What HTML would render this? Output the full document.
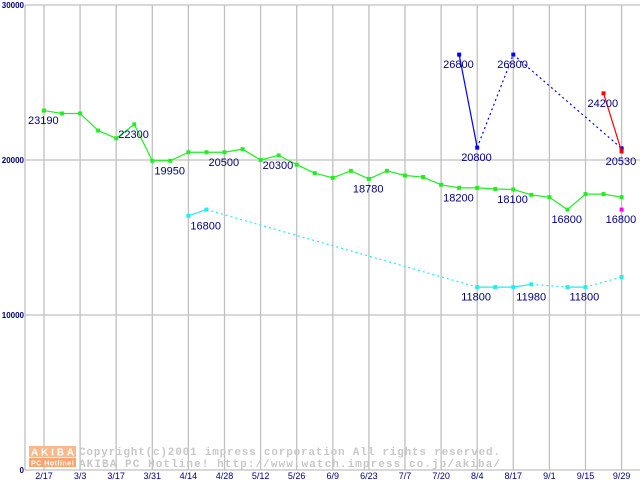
<!DOCTYPE html>
<html><head><meta charset="utf-8"><style>
html,body{margin:0;padding:0;background:#fff;}
svg{display:block;font-family:"Liberation Sans",sans-serif;}
</style></head><body>
<svg id="chart" width="640" height="480" viewBox="0 0 640 480" xmlns="http://www.w3.org/2000/svg">
<g id="wm">
<rect x="29" y="446" width="47" height="11" fill="#fbb88a"/>
<rect x="29" y="458" width="47" height="9" fill="#f9a570"/>
<text x="31" y="455.5" font-size="10" font-weight="bold" fill="#fff" textLength="43">AKIBA</text>
<text x="31" y="465.5" font-size="7" font-weight="bold" fill="#fff" textLength="43">PC Hotline!</text>
<text x="79" y="455" font-size="11" font-weight="bold" fill="#c8c8c8" font-family="Liberation Mono, monospace" textLength="421" lengthAdjust="spacing">Copyright(c)2001 impress corporation All rights reserved.</text>
<text x="79" y="467" font-size="11" font-weight="bold" fill="#c8c8c8" font-family="Liberation Mono, monospace" textLength="421" lengthAdjust="spacing">AKIBA PC Hotline!  http://www.watch.impress.co.jp/akiba/</text>
</g>
</svg>
<script>
const xLabels=["2/17","3/3","3/17","3/31","4/14","4/28","5/12","5/26","6/9","6/23","7/7","7/20","8/4","8/17","9/1","9/15","9/29"];
const yTicks=[0,10000,20000,30000];
const greenVals=[23190,23000,23000,21900,21400,22300,19950,19950,20500,20500,20500,20700,20000,20300,19700,19150,18850,19300,18780,19300,19000,18900,18400,18200,18200,18130,18100,17750,17600,16800,17800,17800,17600];
const cyanIdx=[8,9,24,25,26,27,29,30,32];
const cyanVals=[16400,16800,11800,11800,11800,11980,11800,11800,12450];
const blueIdx=[23,24,26,32];
const blueVals=[26800,20800,26800,20750];
const redIdx=[31,32];
const redVals=[24300,20550];
const magIdx=[32];
const magVals=[16800];
const lblIdx=[0,5,7,10,13,18,23,26,29,32,8,24,26,30,23,24,26,31,32];
const lblVals=[23190,22300,19950,20500,20300,18780,18200,18100,16800,16800,16800,11800,11980,11800,26800,20800,26800,24200,20530];
const lblSeries=["g","g","g","g","g","g","g","g","g","m","c","c","c","c","b","b","b","r","r"];

const svg=document.getElementById('chart');
const NS="http://www.w3.org/2000/svg";
const X=i=>44+18.05*i;
const Y=v=>470-v*465/30000;
function mk(t,a){const e=document.createElementNS(NS,t);for(const k in a)e.setAttribute(k,a[k]);return e;}
const wm=document.getElementById('wm');
const gGrid=mk('g',{});


svg.insertBefore(gGrid,wm);
xLabels.forEach((l,k)=>{
  const x=X(2*k);
  const ln=mk('line',{x1:x,x2:x,y1:5,y2:470,stroke:'#c0c0c0','stroke-width':1.3});
  
  
  gGrid.appendChild(ln);
  const t=mk('text',{x:x,y:479,'font-size':9,fill:'#000080','text-anchor':'middle'});
  
  
  t.textContent=l;svg.appendChild(t);
});
yTicks.forEach(v=>{
  const y=Y(v);
  const ln=mk('line',{x1:25,x2:640,y1:y,y2:y,stroke:'#c0c0c0','stroke-width':1.3});
  
  
  gGrid.appendChild(ln);
  const t=mk('text',{x:24,y:y+3,'font-size':8,'font-weight':'bold',fill:'#000080','text-anchor':'end'});
  
  
  t.textContent=v;svg.appendChild(t);
});
const ax=mk('line',{x1:25,x2:25,y1:5,y2:470,stroke:'#c0c0c0','stroke-width':1.3});


gGrid.appendChild(ax);

function series(idx,vals,color,name){
  const g=mk('g',{});
  
  
  svg.appendChild(g);
  for(let k=1;k<idx.length;k++){
    const dotted=idx[k]-idx[k-1]>1;
    const a={x1:X(idx[k-1]),y1:Y(vals[k-1]),x2:X(idx[k]),y2:Y(vals[k]),stroke:color,'stroke-width':1.2};
    if(dotted)a['stroke-dasharray']='2,3';
    const s=mk('line',a);
    
    
    g.appendChild(s);
  }
  idx.forEach((i,k)=>{
    const r=mk('rect',{x:X(i)-2,y:Y(vals[k])-2,width:4,height:4,fill:color});
    
    
    g.appendChild(r);
  });
}
series(greenVals.map((_,i)=>i),greenVals,'#22ee22','green-series');
series(cyanIdx,cyanVals,'#22eeee','cyan-series');
series(blueIdx,blueVals,'#0000ff','blue-series');
series(redIdx,redVals,'#ff0000','red-series');
series(magIdx,magVals,'#ff00ff','magenta-series');

const valOf={g:(i)=>greenVals[i],c:(i)=>cyanVals[cyanIdx.indexOf(i)],b:(i)=>blueVals[blueIdx.indexOf(i)],r:(i)=>redVals[redIdx.indexOf(i)],m:(i)=>magVals[magIdx.indexOf(i)]};
lblIdx.forEach((i,k)=>{
  const s=lblSeries[k];
  let dx=-16;
  if(s==='c'&&i===8)dx=2;
  if(s==='c'&&i===26)dx=3;
  const t=mk('text',{x:X(i)+dx,y:Y(valOf[s](i))+13.5,'font-size':11,fill:'#000080'});
  
  
  t.textContent=lblVals[k];svg.appendChild(t);
});
</script>
</body></html>
